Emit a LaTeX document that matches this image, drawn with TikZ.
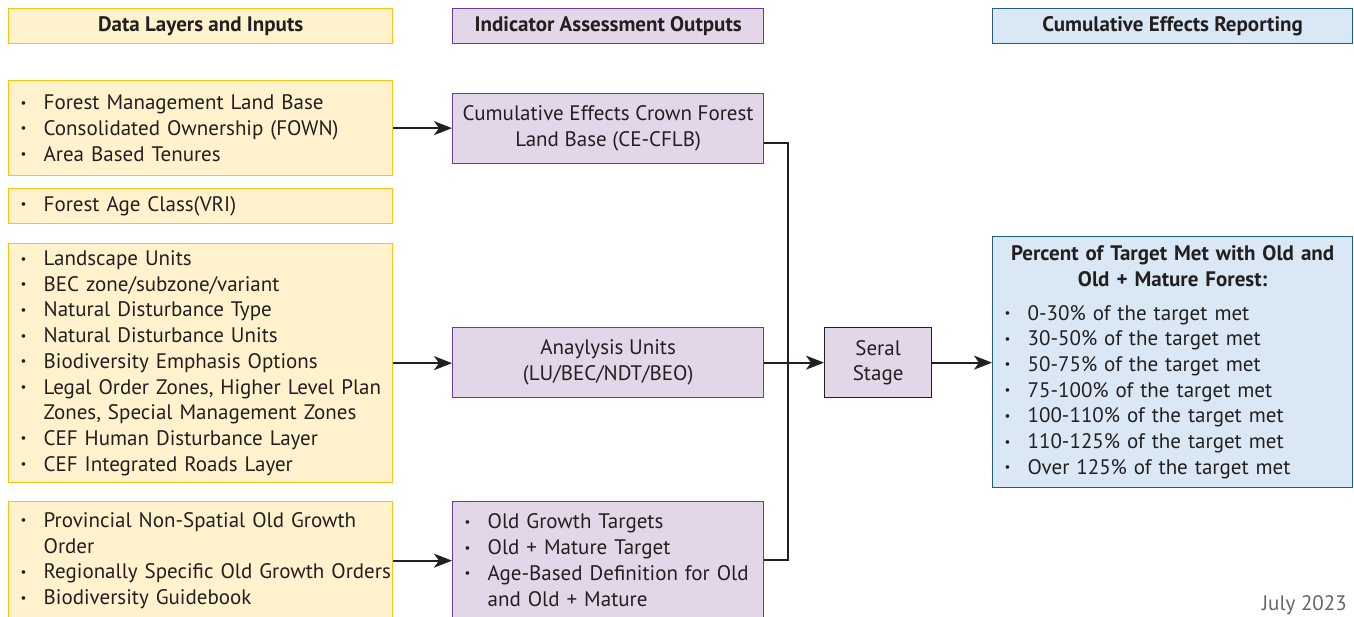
\documentclass[tikz,border=0pt]{standalone}
\usepackage{fontspec}
\setmainfont{PT Sans}
\usetikzlibrary{arrows.meta}

\definecolor{ylwfill}{HTML}{FFF2CC}
\definecolor{ylwline}{HTML}{FFC20E}
\definecolor{prpfill}{HTML}{E2D6E8}
\definecolor{prpline}{HTML}{6A3D9A}
\definecolor{blufill}{HTML}{DAE8F5}
\definecolor{bluline}{HTML}{1F5F85}
\definecolor{ink}{HTML}{231F20}

% bullet line and continuation line
\newcommand{\bl}[1]{\mbox{\hspace*{8pt}\makebox[23pt][l]{\raisebox{2.5pt}{\fontsize{13}{13}\selectfont\textbullet}}#1}}
\newcommand{\cnt}[1]{\mbox{\hspace*{31pt}#1}}

\begin{document}
\begin{tikzpicture}[x=1pt, y=-1pt, text=ink,
    font=\fontsize{21}{25.7}\selectfont,
    hdr/.style={draw, line width=1.3pt, anchor=north west, inner sep=0pt,
        minimum height=35pt, font=\fontsize{21}{25}\selectfont\bfseries},
    lst/.style={draw, line width=1.3pt, anchor=north west, align=left,
        inner xsep=4pt, inner ysep=0pt},
    ctr/.style={draw, line width=1.3pt, anchor=north west, align=center,
        inner sep=0pt},
    ylw/.style={fill=ylwfill, draw=ylwline},
    prp/.style={fill=prpfill, draw=prpline},
    blu/.style={fill=blufill, draw=bluline},
    arr/.style={line width=2pt, draw=ink, -{Stealth[length=18pt, width=14pt, inset=5pt]}},
    line/.style={line width=2pt, draw=ink}]

    \useasboundingbox (0,0) rectangle (1354,617);

    % titres des colonnes
    \node[hdr, ylw, minimum width=384pt] (hdrL) at (8,8) {Data Layers and Inputs};
    \node[hdr, prp, minimum width=311pt] (hdrM) at (452,8) {Indicator Assessment Outputs};
    \node[hdr, blu, minimum width=360pt] (hdrR) at (992,8) {Cumulative Effects Reporting};

    % couches de donnees
    \node[lst, ylw, text width=376pt, minimum height=95pt] (lyrA) at (8,80)
        {\bl{Forest Management Land Base}\\
         \bl{Consolidated Ownership (FOWN)}\\
         \bl{Area Based Tenures}};
    \node[lst, ylw, text width=376pt, minimum height=35pt] (lyrB) at (8,188)
        {\bl{Forest Age Class(VRI)}};
    \node[lst, ylw, text width=376pt, minimum height=239pt] (lyrC) at (8,243)
        {\bl{Landscape Units}\\
         \bl{BEC zone/subzone/variant}\\
         \bl{Natural Disturbance Type}\\
         \bl{Natural Disturbance Units}\\
         \bl{Biodiversity Emphasis Options}\\
         \bl{Legal Order Zones, Higher Level Plan}\\
         \cnt{Zones, Special Management Zones}\\
         \bl{CEF Human Disturbance Layer}\\
         \bl{CEF Integrated Roads Layer}};
    \node[lst, ylw, text width=376pt, minimum height=118pt] (lyrD) at (8,501)
        {\bl{Provincial Non-Spatial Old Growth}\\
         \cnt{Order}\\
         \bl{Regionally Specific Old Growth Orders}\\
         \bl{Biodiversity Guidebook}};

    % sorties
    \node[ctr, prp, minimum width=311pt, minimum height=70pt] (cflb) at (452,93)
        {Cumulative Effects Crown Forest\\ Land Base (CE-CFLB)};
    \node[ctr, prp, minimum width=311pt, minimum height=70pt] (au) at (452,327)
        {Anaylysis Units\\ (LU/BEC/NDT/BEO)};
    \node[lst, prp, text width=303pt, minimum height=117pt] (og) at (452,501)
        {\bl{Old Growth Targets}\\
         \bl{Old + Mature Target}\\
         \bl{Age-Based Definition for Old}\\
         \cnt{and Old + Mature}};
    \node[ctr, prp, draw=ink, minimum width=107pt, minimum height=70pt] (seral) at (824,327)
        {Seral\\ Stage};

    % rapport
    \node[lst, blu, text width=352pt, minimum height=251pt] (res) at (992,236)
        {{\centering\bfseries Percent of Target Met with Old and\\ Old + Mature Forest:\par}
         \vspace{8pt}
         \bl{0-30\% of the target met}\\
         \bl{30-50\% of the target met}\\
         \bl{50-75\% of the target met}\\
         \bl{75-100\% of the target met}\\
         \bl{100-110\% of the target met}\\
         \bl{110-125\% of the target met}\\
         \bl{Over 125\% of the target met}};

    \node[anchor=north east, inner sep=0pt, text=black!60] (date) at (1347,595) {July 2023};

    % fleches
    \foreach \a/\b in {lyrA/cflb, lyrC/au, lyrD/og}
        \draw[arr] (\a.east) -- (\a.east -| \b.west);

    \coordinate (jn) at (788,362);
    \draw[line] ([yshift=-14pt]cflb.east) -| (jn);
    \draw[line] (og.east) -| (jn);
    \draw[arr] (au.east) -- (seral.west);
    \draw[arr] (seral.east) -- (seral.east -| res.west);

\end{tikzpicture}
\end{document}
